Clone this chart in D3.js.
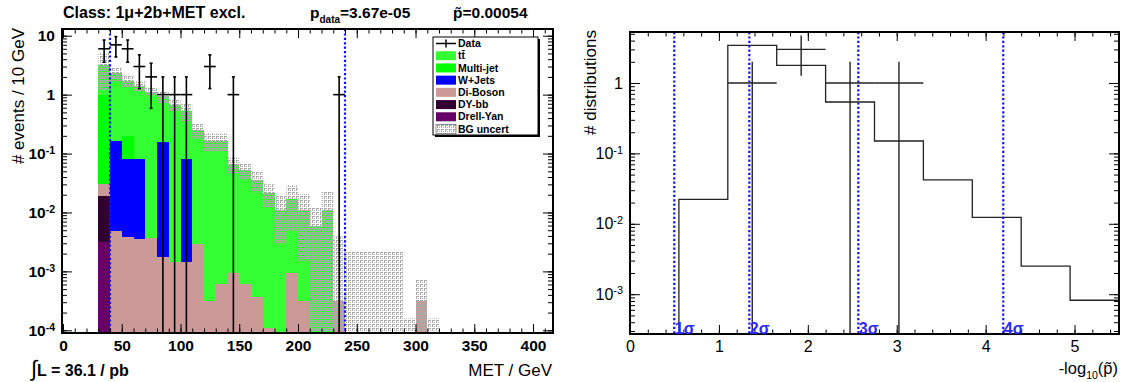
<!DOCTYPE html>
<html>
<head>
<meta charset="utf-8">
<script src="https://cdn.jsdelivr.net/npm/d3@7"></script>
<style>
  html, body { margin: 0; padding: 0; background: #fff; }
  svg { display: block; font-family: "Liberation Sans", Arial, Helvetica, sans-serif; }
</style>
</head>
<body>
<svg id="chart" width="1123" height="382"></svg>
<script>
// ---------------- MET distribution (10 GeV bins) ----------------
const binWidth = 10;
const binLow = [30, 40, 50, 60, 70, 80, 90, 100, 110, 120, 130, 140, 150, 160, 170,
                180, 190, 200, 210, 220, 230, 240, 250, 260, 270, 280, 290, 300, 310];

const drellYan = [0.0031, 0, 0, 0, 0, 0, 0, 0, 0, 0, 0, 0, 0, 0, 0,
                  0, 0, 0, 0, 0, 0, 0, 0, 0, 0, 0, 0, 0, 0];
const dyBB     = [0.016, 0, 0, 0, 0, 0, 0, 0, 0, 0, 0, 0, 0, 0, 0,
                  0, 0, 0, 0, 0, 0, 0, 0, 0, 0, 0, 0, 0, 0];
const diBoson  = [0.011, 0.0048, 0.0039, 0.0036, 0.0037, 0.00175, 0.00144, 0.00144, 0.0029, 0.00032,
                  0.00062, 0.00093, 0.00062, 0.00037, 0.00011, 0, 0.00093, 0.00032, 0, 0,
                  0.00032, 0, 0, 0, 0, 0, 0, 0.00032, 0];
const wJets    = [0, 0.157, 0.077, 0.077, 0, 0.158, 0, 0.078, 0, 0, 0, 0, 0, 0, 0,
                  0, 0, 0, 0, 0, 0, 0, 0, 0, 0, 0, 0, 0, 0];
const multiJet = [0.97, 0, 0.115, 0, 0, 0, 0, 0, 0, 0, 0, 0, 0, 0, 0,
                  0, 0, 0, 0, 0, 0, 0, 0, 0, 0, 0, 0, 0, 0];
const ttbar    = [2.15, 2.14, 1.54, 1.33, 1.116, 0.77, 0.668, 0.44, 0.247, 0.165,
                  0.164, 0.065, 0.052, 0.0356, 0.0209, 0.011, 0.016, 0.0107, 0.006, 0.011,
                  0, 0, 0, 0, 0, 0, 0, 0, 0];
const bgErr    = [1.95, 0.6, 0.44, 0.27, 0.18, 0.21, 0.15, 0.17, 0.07, 0.056,
                  0.055, 0.02, 0.016, 0.014, 0.009, 0.008, 0.012, 0.0095, 0.006, 0.012,
                  0.0036, 0.0022, 0.0022, 0.0022, 0.0022, 0.0022, 0.00016, 0.00041, 0.00016];
const dataCounts = [6, 7, 6, 3, 2, 1, 1, 1, 0, 3, 0, 1, 0, 0, 0,
                    0, 0, 0, 0, 0, 1, 0, 0, 0, 0, 0, 0, 0, 0];

// region of interest edges (GeV)
const roiEdges = [40, 240];

const processKeys   = ["drellYan", "dyBB", "diBoson", "wJets", "multiJet", "ttbar"];
const processColors = ["#660066", "#330033", "#cc9999", "#0000ff", "#00ff00", "#33ff33"];
const legendLabels  = ["Data", "tt\u0304", "Multi-jet", "W+Jets", "Di-Boson", "DY-bb", "Drell-Yan", "BG uncert"];

const metTicksMajor = [0, 50, 100, 150, 200, 250, 300, 350, 400];
const evDecades = [1e-4, 1e-3, 1e-2, 1e-1, 1, 10];

// ---------------- p-tilde distribution ----------------
const pBinWidth = 0.55;
const pBinLow = [0, 0.55, 1.1, 1.65, 2.2, 2.75, 3.3, 3.85, 4.4, 4.95];
const pseudoCounts = [0, 0.0222, 3.43, 1.78, 0.537, 0.15, 0.042, 0.0123, 0.0025, 0.00082];
const observedCounts = [0, 0, 1, 3, 1, 1, 0, 0, 0, 0];
const sigmaPos = [0.498, 1.342, 2.568, 4.198];
const sigmaLabels = ["1\u03c3", "2\u03c3", "3\u03c3", "4\u03c3"];
const pTicksMajor = [0, 1, 2, 3, 4, 5];
const distDecades = [1e-3, 1e-2, 1e-1, 1];

// ---------------------------------------------------------------
const svg = d3.select("#chart");
const defs = svg.append("defs");

const hatch = defs.append("pattern").attr("id", "bgHatch")
  .attr("patternUnits", "userSpaceOnUse").attr("width", 4).attr("height", 4);
hatch.append("path")
  .attr("d", "M0,0.5H3 M0.5,0V3 M2.5,2V3")
  .attr("stroke", "#a8a8a8").attr("stroke-width", 1).attr("fill", "none")
  .attr("shape-rendering", "crispEdges");

function logMinorTicks(lo, hi) {
  const out = [];
  for (let e = Math.floor(Math.log10(lo)); e <= Math.ceil(Math.log10(hi)); e++) {
    for (let m = 1; m < 10; m++) {
      const v = m * Math.pow(10, e);
      if (v >= lo && v <= hi) out.push(v);
    }
  }
  return out;
}
function powerLabel(sel) {
  sel.each(function (d) {
    const e = Math.round(Math.log10(d));
    const t = d3.select(this).text(null);
    if (e === 0) { t.text("1"); return; }
    if (e === 1) { t.text("10"); return; }
    t.append("tspan").text("10");
    t.append("tspan").attr("dy", "-0.5em").attr("font-size", "0.68em").text(e);
  });
}
function styleAxis(g) {
  g.select(".domain").remove();
  g.attr("font-family", null).attr("font-size", null);
  g.selectAll(".tick line").attr("stroke", "#000").attr("stroke-width", 1);
}

// ================= LEFT PANEL =================
const L = { left: 62, right: 553, top: 29, bottom: 333 };
const xMet = d3.scaleLinear().domain([0, 417]).range([63, 553]);
const yEv = d3.scaleLog().domain([9e-5, 13]).range([L.bottom, L.top]);
const yL = v => (v > 0 ? Math.max(L.top, Math.min(L.bottom, yEv(v))) : L.bottom);

defs.append("clipPath").attr("id", "clipL").append("rect")
  .attr("x", L.left).attr("y", L.top).attr("width", L.right - L.left).attr("height", L.bottom - L.top);

const rows = binLow.map((b, i) => ({
  low: b, drellYan: drellYan[i], dyBB: dyBB[i], diBoson: diBoson[i],
  wJets: wJets[i], multiJet: multiJet[i], ttbar: ttbar[i]
}));
const stacked = d3.stack().keys(processKeys)(rows);

const gPlotL = svg.append("g").attr("clip-path", "url(#clipL)");
stacked.forEach((s, si) => {
  gPlotL.append("g").selectAll("rect")
    .data(s.filter(d => d[1] - d[0] > 0))
    .join("rect")
    .attr("x", d => xMet(d.data.low))
    .attr("width", d => xMet(d.data.low + binWidth) - xMet(d.data.low))
    .attr("y", d => yL(d[1]))
    .attr("height", d => yL(d[0]) - yL(d[1]))
    .attr("fill", processColors[si])
    .attr("shape-rendering", "crispEdges");
});

// background uncertainty band
const totals = rows.map(r => processKeys.reduce((a, k) => a + r[k], 0));
gPlotL.append("g").selectAll("rect")
  .data(binLow.map((b, i) => ({ low: b, tot: totals[i], err: bgErr[i] })))
  .join("rect")
  .attr("x", d => xMet(d.low))
  .attr("width", d => xMet(d.low + binWidth) - xMet(d.low))
  .attr("y", d => yL(d.tot + d.err))
  .attr("height", d => yL(d.tot - d.err) - yL(d.tot + d.err))
  .attr("fill", "url(#bgHatch)");

// region of interest
gPlotL.append("g").selectAll("line").data(roiEdges).join("line")
  .attr("x1", d => xMet(d)).attr("x2", d => xMet(d))
  .attr("y1", L.top).attr("y2", L.bottom)
  .attr("stroke", "#1010ff").attr("stroke-width", 2.2).attr("stroke-dasharray", "2.2,2.2");

// data points with Poisson errors
const pts = binLow.map((b, i) => ({ c: b + binWidth / 2, n: dataCounts[i] })).filter(d => d.n > 0);
const gData = gPlotL.append("g").attr("stroke", "#000").attr("stroke-width", 1.6);
pts.forEach(d => {
  const e = Math.sqrt(d.n);
  const xc = xMet(d.c), yc = yL(d.n);
  const yTop = yL(d.n + e), yBot = yL(d.n - e);
  gData.append("line").attr("x1", xMet(d.c - binWidth / 2)).attr("x2", xMet(d.c + binWidth / 2)).attr("y1", yc).attr("y2", yc);
  gData.append("line").attr("x1", xc).attr("x2", xc).attr("y1", yTop).attr("y2", yBot);
  gData.append("line").attr("x1", xc - 1.5).attr("x2", xc + 1.5).attr("y1", yTop).attr("y2", yTop);
  if (d.n - e > 0) gData.append("line").attr("x1", xc - 1.5).attr("x2", xc + 1.5).attr("y1", yBot).attr("y2", yBot);
});

// axes
const metMinor = d3.range(0, 418, 10);
svg.append("g").attr("transform", `translate(0,${L.bottom})`)
  .call(d3.axisBottom(xMet).tickValues(metMinor).tickSize(-4.5).tickFormat("")).call(styleAxis);
svg.append("g").attr("transform", `translate(0,${L.top})`)
  .call(d3.axisTop(xMet).tickValues(metMinor).tickSize(-4.5).tickFormat("")).call(styleAxis);
svg.append("g").attr("transform", `translate(0,${L.top})`)
  .call(d3.axisTop(xMet).tickValues(metTicksMajor).tickSize(-9).tickFormat("")).call(styleAxis);
const axBL = svg.append("g").attr("transform", `translate(0,${L.bottom})`)
  .call(d3.axisBottom(xMet).tickValues(metTicksMajor).tickSize(-9).tickPadding(7).tickFormat(d3.format("d")))
  .call(styleAxis);
axBL.selectAll(".tick text").attr("font-size", 15.5).attr("font-weight", "bold").attr("fill", "#000");

const evMinor = logMinorTicks(9e-5, 13);
svg.append("g").attr("transform", `translate(${L.left},0)`)
  .call(d3.axisLeft(yEv).tickValues(evMinor).tickSize(-5).tickFormat("")).call(styleAxis);
svg.append("g").attr("transform", `translate(${L.right},0)`)
  .call(d3.axisRight(yEv).tickValues(evMinor).tickSize(-5).tickFormat("")).call(styleAxis);
svg.append("g").attr("transform", `translate(${L.right},0)`)
  .call(d3.axisRight(yEv).tickValues(evDecades).tickSize(-10).tickFormat("")).call(styleAxis);
const axLL = svg.append("g").attr("transform", `translate(${L.left},0)`)
  .call(d3.axisLeft(yEv).tickValues(evDecades).tickSize(-10).tickPadding(7).tickFormat(d => d))
  .call(styleAxis);
axLL.selectAll(".tick text").attr("font-size", 15.5).attr("font-weight", "bold").attr("fill", "#000")
  .call(powerLabel);

svg.append("rect").attr("x", L.left).attr("y", L.top)
  .attr("width", L.right - L.left).attr("height", L.bottom - L.top)
  .attr("fill", "none").attr("stroke", "#000").attr("stroke-width", 2);

// legend
const lg = svg.append("g").attr("transform", "translate(433,37)");
lg.append("rect").attr("x", 2).attr("y", 2).attr("width", 105).attr("height", 98).attr("fill", "#000");
lg.append("rect").attr("x", 0).attr("y", 0).attr("width", 105).attr("height", 98)
  .attr("fill", "#fff").attr("stroke", "#000").attr("stroke-width", 1);
const legendY = d3.scalePoint().domain(legendLabels).range([6.5, 92]);
legendLabels.forEach((lab, i) => {
  const yy = legendY(lab);
  if (i === 0) {
    lg.append("line").attr("x1", 3).attr("x2", 23).attr("y1", yy).attr("y2", yy).attr("stroke", "#000").attr("stroke-width", 1.5);
    lg.append("line").attr("x1", 13).attr("x2", 13).attr("y1", yy - 4).attr("y2", yy + 4).attr("stroke", "#000").attr("stroke-width", 1.5);
  } else if (i === legendLabels.length - 1) {
    lg.append("rect").attr("x", 3).attr("y", yy - 4.5).attr("width", 20).attr("height", 9)
      .attr("fill", "url(#bgHatch)").attr("stroke", "#777").attr("stroke-width", 0.8);
  } else {
    const k = processKeys.length - i;
    lg.append("rect").attr("x", 3).attr("y", yy - 4.5).attr("width", 20).attr("height", 9)
      .attr("fill", processColors[k]);
  }
  lg.append("text").attr("x", 25).attr("y", yy).attr("dy", "0.35em")
    .attr("font-size", 10.5).attr("font-weight", "bold").text(lab);
});

// titles
svg.append("text").attr("x", 63).attr("y", 18).attr("font-size", 16).attr("font-weight", "bold")
  .text("Class: 1\u03bc+2b+MET excl.");
const pd = svg.append("text").attr("x", 310).attr("y", 18).attr("font-size", 15.5).attr("font-weight", "bold");
pd.append("tspan").text("p");
pd.append("tspan").attr("dy", 4.5).attr("font-size", 10).text("data");
pd.append("tspan").attr("dy", -4.5).text("=3.67e-05");
svg.append("text").attr("x", 453).attr("y", 18).attr("font-size", 15.5).attr("font-weight", "bold")
  .text("p\u0303=0.00054");

svg.append("text").attr("transform", "translate(24,28) rotate(-90)").attr("text-anchor", "end")
  .attr("font-size", 17).text("# events / 10 GeV");
svg.append("text").attr("x", 552).attr("y", 376).attr("text-anchor", "end")
  .attr("font-size", 17).text("MET / GeV");
const lumi = svg.append("text").attr("x", 31).attr("y", 376).attr("font-size", 16).attr("font-weight", "bold");
lumi.append("tspan").attr("font-size", 22).attr("font-weight", "normal").text("\u222b");
lumi.append("tspan").text("L = 36.1 / pb");

// ================= RIGHT PANEL =================
const R = { left: 630, right: 1119, top: 32, bottom: 334 };
const xP = d3.scaleLinear().domain([0, 5.5]).range([R.left, R.right]);
const yD = d3.scaleLog().domain([2.72e-4, 5.3]).range([R.bottom, R.top]);
const yR = v => (v > 0 ? Math.max(R.top, Math.min(R.bottom, yD(v))) : R.bottom);

defs.append("clipPath").attr("id", "clipR").append("rect")
  .attr("x", R.left).attr("y", R.top).attr("width", R.right - R.left).attr("height", R.bottom - R.top);
const gPlotR = svg.append("g").attr("clip-path", "url(#clipR)");

// pseudo-experiment distribution as a step histogram
const stepPts = pBinLow.map((b, i) => [b, pseudoCounts[i]]);
stepPts.push([pBinLow[pBinLow.length - 1] + pBinWidth, pseudoCounts[pseudoCounts.length - 1]]);
gPlotR.append("path")
  .attr("d", d3.line().x(d => xP(d[0])).y(d => yR(d[1])).curve(d3.curveStepAfter)(stepPts))
  .attr("fill", "none").attr("stroke", "#222").attr("stroke-width", 1.3);

// significance markers
gPlotR.append("g").selectAll("line").data(sigmaPos).join("line")
  .attr("x1", d => xP(d)).attr("x2", d => xP(d)).attr("y1", R.top).attr("y2", R.bottom)
  .attr("stroke", "#1010ff").attr("stroke-width", 2.2).attr("stroke-dasharray", "2.2,2.2");

// observed
const gObs = gPlotR.append("g").attr("stroke", "#222").attr("stroke-width", 1.4);
pBinLow.forEach((b, i) => {
  const n = observedCounts[i];
  if (n <= 0) return;
  const e = Math.sqrt(n), c = b + pBinWidth / 2;
  gObs.append("line").attr("x1", xP(b)).attr("x2", xP(b + pBinWidth)).attr("y1", yR(n)).attr("y2", yR(n));
  gObs.append("line").attr("x1", xP(c)).attr("x2", xP(c)).attr("y1", yR(n + e)).attr("y2", yR(n - e));
});

const pMinor = d3.range(0, 5.51, 0.2);
svg.append("g").attr("transform", `translate(0,${R.bottom})`)
  .call(d3.axisBottom(xP).tickValues(pMinor).tickSize(-4.5).tickFormat("")).call(styleAxis);
svg.append("g").attr("transform", `translate(0,${R.top})`)
  .call(d3.axisTop(xP).tickValues(pMinor).tickSize(-4.5).tickFormat("")).call(styleAxis);
svg.append("g").attr("transform", `translate(0,${R.top})`)
  .call(d3.axisTop(xP).tickValues(pTicksMajor).tickSize(-9).tickFormat("")).call(styleAxis);
const axBR = svg.append("g").attr("transform", `translate(0,${R.bottom})`)
  .call(d3.axisBottom(xP).tickValues(pTicksMajor).tickSize(-9).tickPadding(7).tickFormat(d3.format("d")))
  .call(styleAxis);
axBR.selectAll(".tick text").attr("font-size", 16).attr("fill", "#000");

const distMinor = logMinorTicks(2.72e-4, 5.3);
svg.append("g").attr("transform", `translate(${R.left},0)`)
  .call(d3.axisLeft(yD).tickValues(distMinor).tickSize(-5).tickFormat("")).call(styleAxis);
svg.append("g").attr("transform", `translate(${R.right},0)`)
  .call(d3.axisRight(yD).tickValues(distMinor).tickSize(-5).tickFormat("")).call(styleAxis);
svg.append("g").attr("transform", `translate(${R.right},0)`)
  .call(d3.axisRight(yD).tickValues(distDecades).tickSize(-10).tickFormat("")).call(styleAxis);
const axLR = svg.append("g").attr("transform", `translate(${R.left},0)`)
  .call(d3.axisLeft(yD).tickValues(distDecades).tickSize(-10).tickPadding(7).tickFormat(d => d))
  .call(styleAxis);
axLR.selectAll(".tick text").attr("font-size", 16).attr("fill", "#000").call(powerLabel);

svg.append("rect").attr("x", R.left).attr("y", R.top)
  .attr("width", R.right - R.left).attr("height", R.bottom - R.top)
  .attr("fill", "none").attr("stroke", "#000").attr("stroke-width", 2);

svg.append("g").selectAll("text").data(sigmaPos).join("text")
  .attr("x", d => xP(d) + 0.5).attr("y", R.bottom)
  .attr("font-size", 16).attr("font-weight", "bold").attr("fill", "#2a2aff")
  .text((d, i) => sigmaLabels[i]);

svg.append("text").attr("transform", "translate(596,30) rotate(-90)").attr("text-anchor", "end")
  .attr("font-size", 17).text("# distributions");
const xl = svg.append("text").attr("x", 1118).attr("y", 374).attr("text-anchor", "end").attr("font-size", 16.5);
xl.append("tspan").text("-log");
xl.append("tspan").attr("dy", 4.5).attr("font-size", 10.5).text("10");
xl.append("tspan").attr("dy", -4.5).text("(p\u0303)");
</script>
</body>
</html>
